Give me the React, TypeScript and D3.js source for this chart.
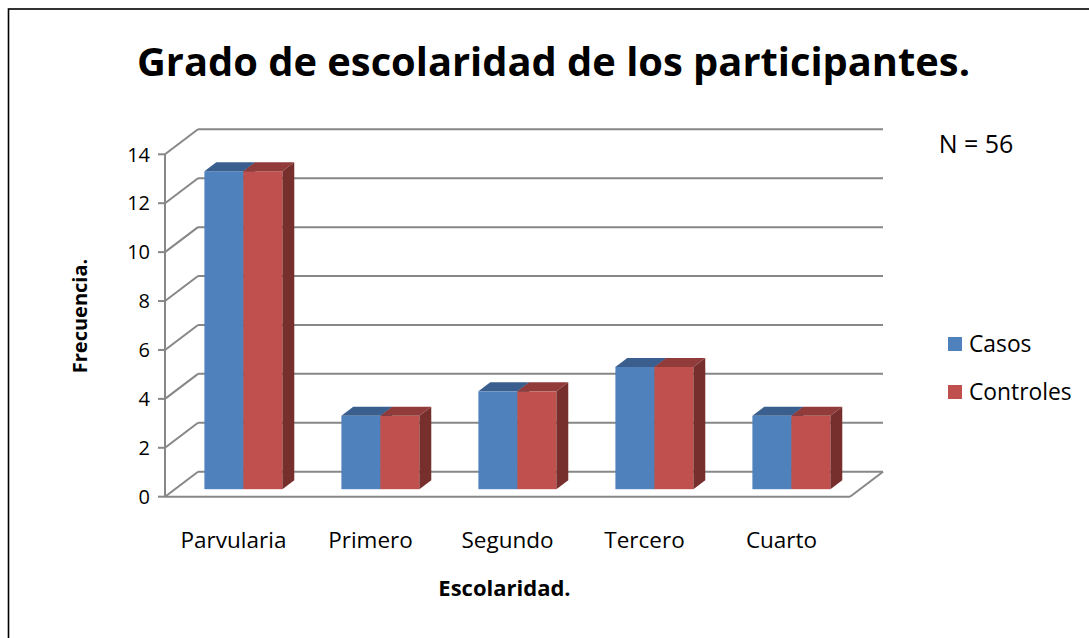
import React from "react";
import * as d3 from "d3";

const categories = ["Parvularia", "Primero", "Segundo", "Tercero", "Cuarto"];
const seriesNames = ["Casos", "Controles"];
const casos = [13, 3, 4, 5, 3];
const controles = [13, 3, 4, 5, 3];
const yTicks = [0, 2, 4, 6, 8, 10, 12, 14];

const title = "Grado de escolaridad de los participantes.";
const yTitle = "Frecuencia.";
const xTitle = "Escolaridad.";
const note = "N = 56";

const FONT = "'Open Sans', 'DejaVu Sans', sans-serif";
const W = 1089;
const H = 638;

// layout
const frontLeft = 165;
const frontRight = 850;
const y0 = 496.7;
const yTop = 154.3;
const DX = 33; // wall depth offset
const DY = -25;
const barFront = 0.3; // fraction of depth where bar front sits
const barDepth = 0.36;
const barGroup = 78;

const colors = {
  Casos: { front: "#4F81BD", top: "#3A5F8E", side: "#2F4D74" },
  Controles: { front: "#C0504D", top: "#913C3A", side: "#772F2D" },
};
const gridColor = "#878787";

export default function App() {
  const y = d3.scaleLinear().domain([0, 14]).range([y0, yTop]);
  const x = d3.scaleBand<string>().domain(categories).range([frontLeft, frontRight]);
  const data = [casos, controles];

  const fdx = DX * barFront;
  const fdy = DY * barFront;
  const bdx = DX * barDepth;
  const bdy = DY * barDepth;

  const bars: React.ReactNode[] = [];
  categories.forEach((c, i) => {
    const center = (x(c) as number) + x.bandwidth() / 2;
    const sub = d3
      .scaleBand<string>()
      .domain(seriesNames)
      .range([center - barGroup / 2, center + barGroup / 2]);
    seriesNames.forEach((s, si) => {
      const v = data[si][i];
      const col = (colors as any)[s];
      const xl = (sub(s) as number) + fdx;
      const xr = xl + sub.bandwidth();
      const yb = y(0) + fdy;
      const yt = y(v) + fdy;
      bars.push(
        <g key={c + s}>
          <rect x={xl} y={yt} width={xr - xl} height={yb - yt} fill={col.front} />
          <path
            d={`M${xl},${yt} L${xl + bdx},${yt + bdy} L${xr + bdx},${yt + bdy} L${xr},${yt} Z`}
            fill={col.top}
          />
          <path
            d={`M${xr},${yt} L${xr + bdx},${yt + bdy} L${xr + bdx},${yb + bdy} L${xr},${yb} Z`}
            fill={col.side}
          />
        </g>
      );
    });
  });

  return (
    <svg
      width={W}
      height={H}
      style={{ position: "absolute", left: 0, top: 0, display: "block", background: "#fff" }}
      fontFamily={FONT}
    >
      <rect x={0} y={0} width={W} height={H} fill="#fff" />
      <rect x={8.5} y={9} width={W + 20} height={H + 20} fill="none" stroke="#000" strokeWidth={1.6} />

      <text
        x={553.5}
        y={76}
        textAnchor="middle"
        fontSize={40}
        fontWeight="bold"
        textLength={833}
        lengthAdjust="spacingAndGlyphs"
        fill="#000"
      >
        {title}
      </text>

      {/* gridlines: left wall diagonals + back wall */}
      {yTicks.map((t) => (
        <g key={t} stroke={gridColor} strokeWidth={2} fill="none">
          <line x1={frontLeft} y1={y(t)} x2={frontLeft + DX} y2={y(t) + DY} />
          <line x1={frontLeft + DX} y1={y(t) + DY} x2={frontRight + DX} y2={y(t) + DY} />
          <line x1={frontLeft - 7} y1={y(t)} x2={frontLeft} y2={y(t)} />
        </g>
      ))}
      {/* front vertical axis and floor */}
      <g stroke={gridColor} strokeWidth={2} fill="none">
        <line x1={frontLeft} y1={y(0)} x2={frontLeft} y2={y(14)} />
        <line x1={frontLeft} y1={y(0)} x2={frontRight} y2={y(0)} />
        <line x1={frontRight} y1={y(0)} x2={frontRight + DX} y2={y(0) + DY} />
      </g>

      {bars}

      {/* y tick labels */}
      {yTicks.map((t) => (
        <text key={t} x={150} y={y(t)} dy="0.36em" textAnchor="end" fontSize={20} fill="#000">
          {t}
        </text>
      ))}

      {/* x labels */}
      {categories.map((c) => (
        <text
          key={c}
          x={(x(c) as number) + x.bandwidth() / 2}
          y={548}
          textAnchor="middle"
          fontSize={22.5}
          fill="#000"
        >
          {c}
        </text>
      ))}

      <text x={504.5} y={596} textAnchor="middle" fontSize={22} fontWeight="bold" fill="#000">
        {xTitle}
      </text>

      <text
        transform={`translate(87,316) rotate(-90)`}
        textAnchor="middle"
        fontSize={20}
        fontWeight="bold"
        fill="#000"
      >
        {yTitle}
      </text>

      <text x={976} y={153} textAnchor="middle" fontSize={25} fill="#000">
        {note}
      </text>

      {seriesNames.map((s, i) => (
        <g key={s}>
          <rect x={948} y={337 + i * 48} width={14} height={14} fill={(colors as any)[s].front} />
          <text x={969} y={352 + i * 48} fontSize={22.8} fill="#000">
            {s}
          </text>
        </g>
      ))}
    </svg>
  );
}
